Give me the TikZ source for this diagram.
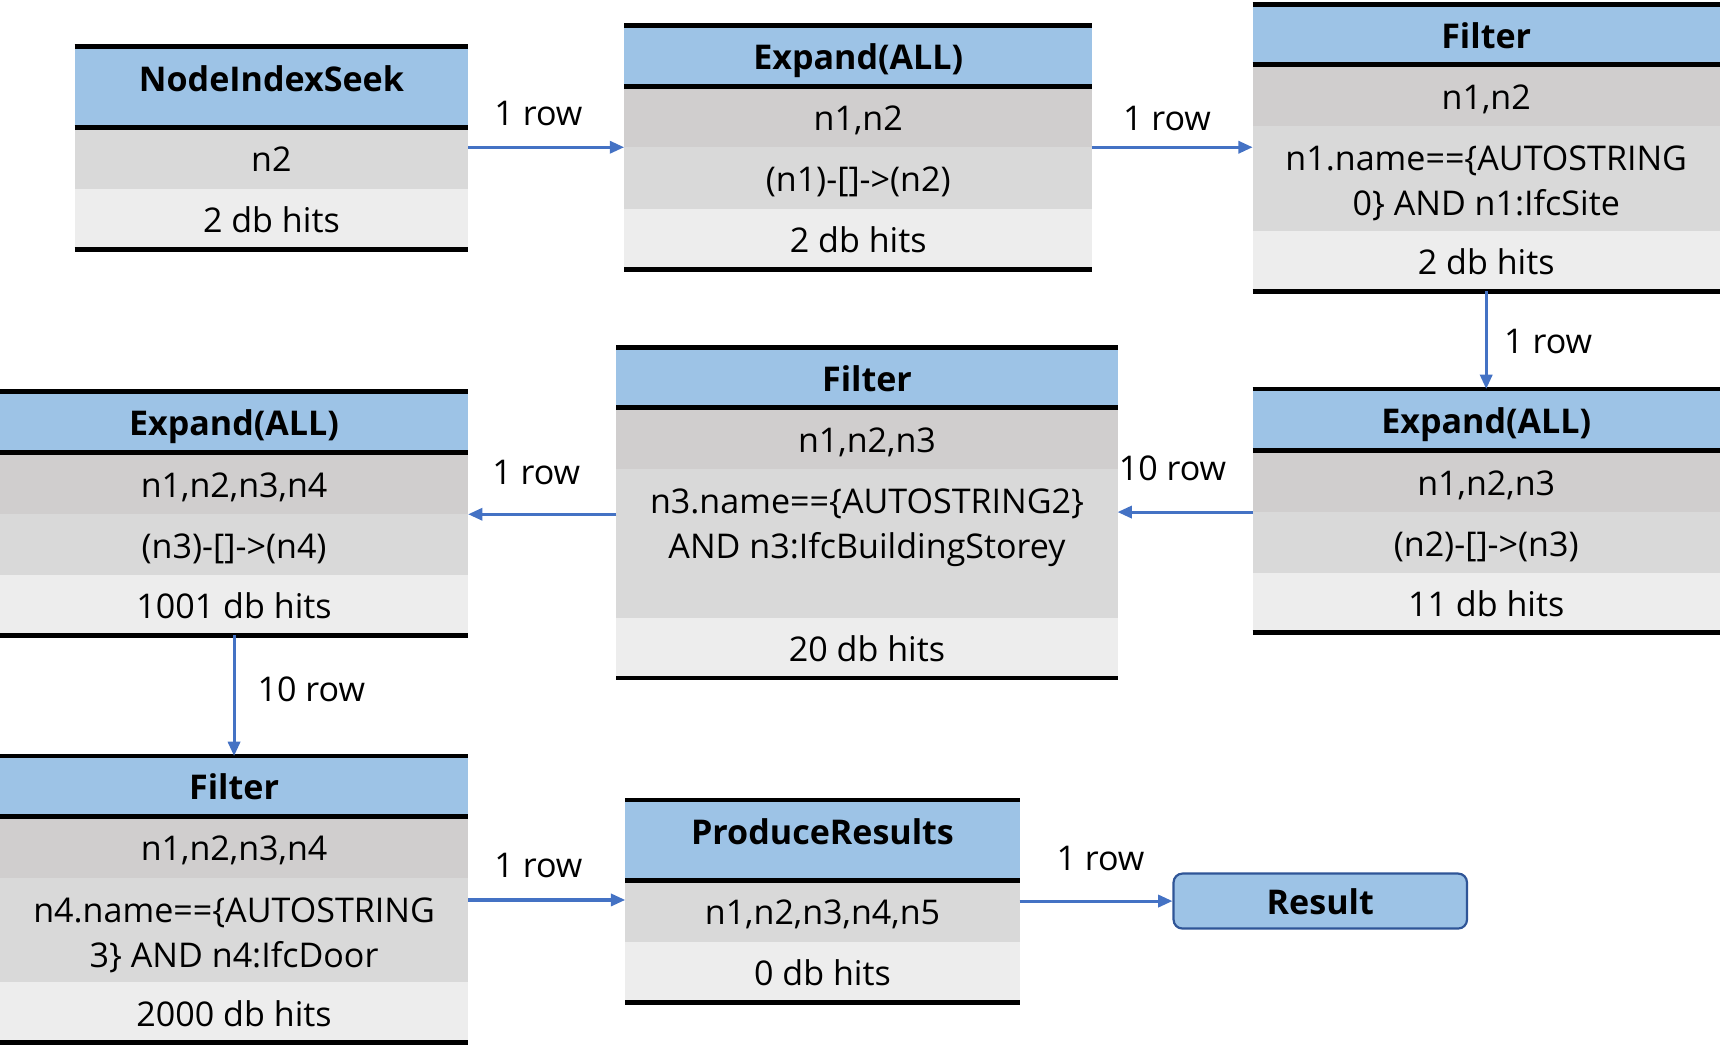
\documentclass[tikz,border=0pt]{standalone}
\usepackage{fontspec}
\setmainfont{Open Sans}
\usetikzlibrary{arrows.meta,calc}
\definecolor{hdrblue}{HTML}{9DC3E6}
\definecolor{grayA}{HTML}{D0CECE}
\definecolor{grayB}{HTML}{D9D9D9}
\definecolor{grayC}{HTML}{EDEDED}
\definecolor{arrblue}{HTML}{4472C4}
\definecolor{resborder}{HTML}{2F5597}
\begin{document}
\begin{tikzpicture}[x=1pt,y=-1pt,
  cellbase/.style={anchor=north west, inner sep=0pt, outer sep=0pt, font=\fontsize{31}{41}\selectfont},
  row/.style={cellbase, text height=30pt, text depth=5pt},
  mrow/.style={cellbase, align=center},
  hdr/.style={row, fill=hdrblue, font=\fontsize{31}{41}\selectfont\bfseries},
  thk/.style={line width=4.5pt, black},
  arr/.style={draw=arrblue, line width=2.8pt, -{Triangle[length=13pt,width=11pt]}},
  lbl/.style={font=\fontsize{31}{41}\selectfont, inner sep=0pt, anchor=base}]
\useasboundingbox (0,0) rectangle (1568,963);

% ---- A: NodeIndexSeek
\node[hdr, minimum width=358pt, minimum height=74pt, text depth=22pt] (A1) at (68,42) {NodeIndexSeek};
\node[row, fill=grayB, minimum width=358pt, minimum height=56pt] (A2) at (68,116) {n2};
\node[row, fill=grayC, minimum width=358pt, minimum height=55pt] (A3) at (68,172) {2 db hits};
\draw[thk] (A1.north west) -- (A1.north east) (A1.south west) -- (A1.south east) (A3.south west) -- (A3.south east);

% ---- B: Expand(ALL)
\node[hdr, minimum width=426pt, minimum height=56pt] (B1) at (568,23) {Expand(ALL)};
\node[row, fill=grayA, minimum width=426pt, minimum height=55pt] (B2) at (568,79) {n1,n2};
\node[row, fill=grayB, minimum width=426pt, minimum height=56pt] (B3) at (568,134) {(n1)-[]->(n2)};
\node[row, fill=grayC, minimum width=426pt, minimum height=55pt] (B4) at (568,190) {2 db hits};
\draw[thk] (B1.north west) -- (B1.north east) (B1.south west) -- (B1.south east) (B4.south west) -- (B4.south east);

% ---- C: Filter
\node[hdr, minimum width=425pt, minimum height=55pt] (C1) at (1140,4) {Filter};
\node[row, fill=grayA, minimum width=425pt, minimum height=56pt] (C2) at (1140,59) {n1,n2};
\node[mrow, fill=grayB, minimum width=425pt, minimum height=95pt] (C3) at (1140,115) {\rule{0pt}{32pt}n1.name==\{AUTOSTRING\\0\} AND n1:IfcSite};
\node[row, fill=grayC, minimum width=425pt, minimum height=55pt] (C4) at (1140,210) {2 db hits};
\draw[thk] (C1.north west) -- (C1.north east) (C1.south west) -- (C1.south east) (C4.south west) -- (C4.south east);

% ---- D: Expand(ALL)
\node[hdr, minimum width=425pt, minimum height=56pt] (D1) at (1140,354) {Expand(ALL)};
\node[row, fill=grayA, minimum width=425pt, minimum height=56pt] (D2) at (1140,410) {n1,n2,n3};
\node[row, fill=grayB, minimum width=425pt, minimum height=55pt] (D3) at (1140,466) {(n2)-[]->(n3)};
\node[row, fill=grayC, minimum width=425pt, minimum height=55pt] (D4) at (1140,521) {11 db hits};
\draw[thk] (D1.north west) -- (D1.north east) (D1.south west) -- (D1.south east) (D4.south west) -- (D4.south east);

% ---- E: Filter
\node[hdr, minimum width=456pt, minimum height=55pt] (E1) at (561,316) {Filter};
\node[row, fill=grayA, minimum width=456pt, minimum height=56pt] (E2) at (561,371) {n1,n2,n3};
\node[mrow, fill=grayB, minimum width=456pt, minimum height=135pt] (E3) at (561,427) {\rule{0pt}{28pt}n3.name==\{AUTOSTRING2\}\\AND n3:IfcBuildingStorey\\\mbox{}};
\node[row, fill=grayC, minimum width=456pt, minimum height=55pt] (E4) at (561,562) {20 db hits};
\draw[thk] (E1.north west) -- (E1.north east) (E1.south west) -- (E1.south east) (E4.south west) -- (E4.south east);

% ---- F: Expand(ALL)
\node[hdr, minimum width=426pt, minimum height=56pt] (F1) at (0,356) {Expand(ALL)};
\node[row, fill=grayA, minimum width=426pt, minimum height=56pt] (F2) at (0,412) {n1,n2,n3,n4};
\node[row, fill=grayB, minimum width=426pt, minimum height=55pt] (F3) at (0,468) {(n3)-[]->(n4)};
\node[row, fill=grayC, minimum width=426pt, minimum height=55pt] (F4) at (0,523) {1001 db hits};
\draw[thk] (F1.north west) -- (F1.north east) (F1.south west) -- (F1.south east) (F4.south west) -- (F4.south east);

% ---- G: Filter
\node[hdr, minimum width=426pt, minimum height=55pt] (G1) at (0,688) {Filter};
\node[row, fill=grayA, minimum width=426pt, minimum height=56pt] (G2) at (0,743) {n1,n2,n3,n4};
\node[mrow, fill=grayB, minimum width=426pt, minimum height=95pt] (G3) at (0,799) {\rule{0pt}{32pt}n4.name==\{AUTOSTRING\\3\} AND n4:IfcDoor};
\node[row, fill=grayC, minimum width=426pt, minimum height=55pt] (G4) at (0,894) {2000 db hits};
\draw[thk] (G1.north west) -- (G1.north east) (G1.south west) -- (G1.south east) (G4.south west) -- (G4.south east);

% ---- H: ProduceResults
\node[hdr, minimum width=359pt, minimum height=73pt, text depth=22pt] (H1) at (569,728) {ProduceResults};
\node[row, fill=grayB, minimum width=359pt, minimum height=56pt] (H2) at (569,801) {n1,n2,n3,n4,n5};
\node[row, fill=grayC, minimum width=359pt, minimum height=55pt] (H3) at (569,857) {0 db hits};
\draw[thk] (H1.north west) -- (H1.north east) (H1.south west) -- (H1.south east) (H3.south west) -- (H3.south east);

% ---- Result
\node[draw=resborder, line width=2pt, fill=hdrblue, rounded corners=8pt, minimum width=267pt, minimum height=50pt, inner sep=0pt,
      text height=30pt, text depth=5pt, font=\fontsize{31}{41}\selectfont\bfseries] (Res) at (1201.5,820) {Result};

% ---- connectors
\draw[arr] (A2.east |- B3.north west) -- (B3.north west)
  node[lbl, midway, xshift=-7pt, yshift=20pt] {1 row};
\draw[arr] (B3.north east) -- (B3.north east -| C3.west)
  node[lbl, midway, xshift=-5pt, yshift=15pt] {1 row};
\draw[arr] (C4.south) -- (D1.north)
  node[lbl, midway, anchor=base west, xshift=15pt, yshift=-12.5pt] {1 row};
\draw[arr] (D3.north west) -- (D3.north west -| E3.east)
  node[lbl, midway, xshift=-11.5pt, yshift=29pt] {10 row};
\draw[arr] (E3.west |- F3.north) -- (F3.north east)
  node[lbl, midway, xshift=-5.5pt, yshift=27pt] {1 row};
\draw[arr] (F4.south) -- (G1.north)
  node[lbl, midway, anchor=base west, xshift=20pt, yshift=-5pt] {10 row};
\draw[arr] ($(G3.east |- H2.north)+(0,18)$) -- ($(H2.north west)+(0,18)$)
  node[lbl, midway, xshift=-7.5pt, yshift=20pt] {1 row};
\draw[arr] (Res.west -| H2.east) -- (Res.west)
  node[lbl, midway, xshift=4pt, yshift=28pt] {1 row};
\end{tikzpicture}
\end{document}
